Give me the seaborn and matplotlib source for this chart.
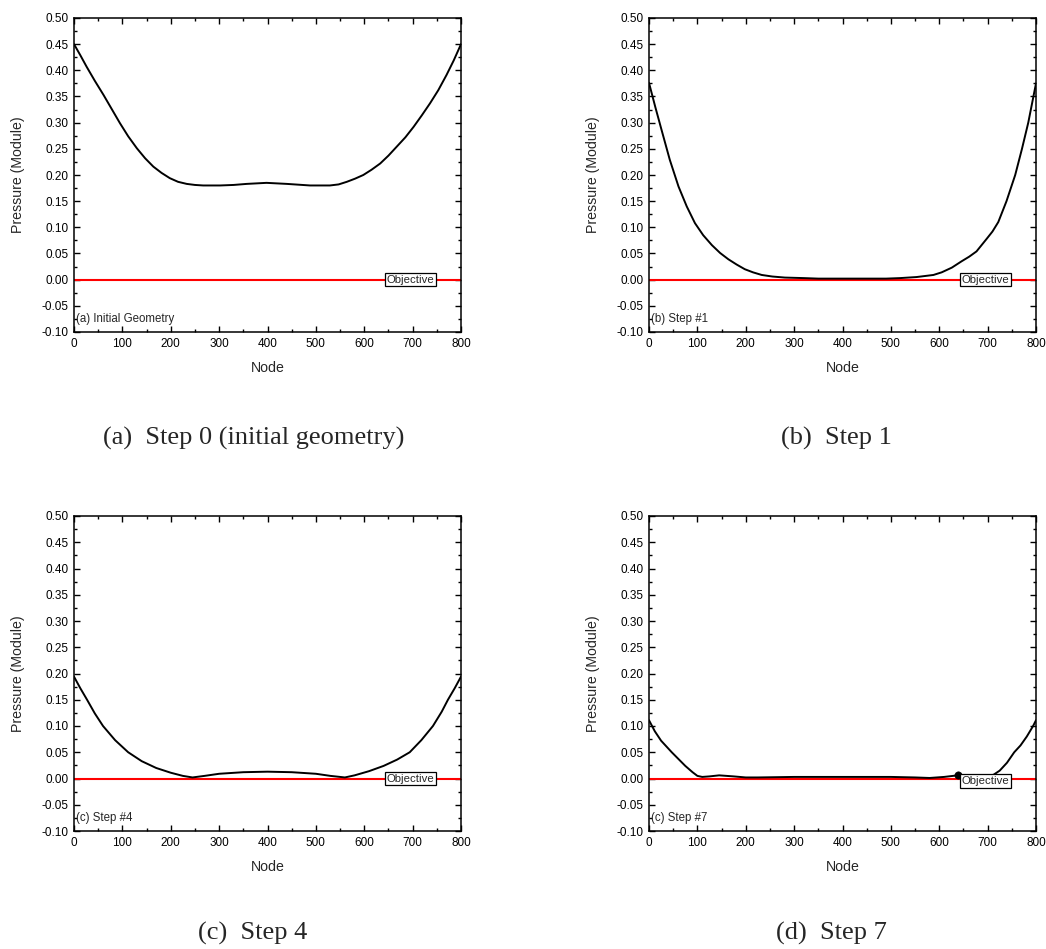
import matplotlib
matplotlib.use("Agg")
import matplotlib.pyplot as plt
from matplotlib.ticker import MultipleLocator, FormatStrFormatter
import seaborn as sns
import pandas as pd

# ---- data: pressure modulus along the boundary nodes at each optimisation step ----
nodes_step0 = [0, 13, 26, 43, 61, 78, 95, 112, 130, 147, 164, 181, 198, 215, 233, 250,
               267, 302, 330, 357, 398, 440, 488, 529, 547, 564, 581, 598, 615, 633,
               650, 667, 685, 702, 719, 736, 753, 770, 785, 800]
pressure_step0 = [0.450, 0.429, 0.407, 0.380, 0.353, 0.326, 0.299, 0.274, 0.251, 0.232,
                  0.216, 0.204, 0.194, 0.187, 0.183, 0.181, 0.180, 0.180, 0.181, 0.183,
                  0.185, 0.183, 0.180, 0.180, 0.182, 0.187, 0.193, 0.200, 0.210, 0.222,
                  0.237, 0.254, 0.272, 0.292, 0.314, 0.337, 0.362, 0.391, 0.419, 0.450]

nodes_step1 = [0, 13, 26, 43, 61, 78, 95, 112, 130, 147, 164, 181, 198, 215, 233, 255,
               281, 320, 350, 400, 450, 490, 519, 553, 588, 605, 626, 646, 662, 677,
               698, 710, 722, 739, 757, 771, 784, 800]
pressure_step1 = [0.376, 0.330, 0.286, 0.229, 0.178, 0.140, 0.108, 0.085, 0.066, 0.051,
                  0.039, 0.029, 0.020, 0.014, 0.009, 0.006, 0.004, 0.003, 0.002, 0.002,
                  0.002, 0.002, 0.003, 0.005, 0.009, 0.014, 0.023, 0.035, 0.044, 0.054,
                  0.078, 0.092, 0.110, 0.150, 0.200, 0.250, 0.300, 0.375]

nodes_step4 = [0, 13, 27, 43, 60, 85, 112, 140, 170, 200, 225, 245, 270, 300, 350, 400,
               450, 500, 530, 560, 580, 610, 640, 668, 694, 718, 742, 760, 773, 787, 800]
pressure_step4 = [0.194, 0.172, 0.150, 0.124, 0.100, 0.073, 0.050, 0.033, 0.020, 0.011,
                  0.005, 0.002, 0.005, 0.009, 0.012, 0.013, 0.012, 0.009, 0.005, 0.002,
                  0.006, 0.014, 0.024, 0.036, 0.050, 0.073, 0.100, 0.127, 0.150, 0.172,
                  0.194]

nodes_step7 = [0, 12, 25, 47, 75, 90, 100, 110, 125, 145, 175, 200, 225, 300, 400, 500,
               550, 580, 610, 638, 660, 690, 712, 725, 740, 755, 768, 781, 794, 800]
pressure_step7 = [0.111, 0.090, 0.072, 0.050, 0.024, 0.012, 0.005, 0.003, 0.004, 0.006,
                  0.004, 0.002, 0.002, 0.003, 0.003, 0.003, 0.002, 0.001, 0.003, 0.006,
                  0.005, 0.004, 0.007, 0.015, 0.030, 0.050, 0.063, 0.080, 0.100, 0.111]

# marked node on the last step
marker_node = [638]
marker_pressure = [0.006]

objective_value = 0.0

inner_labels = ["(a) Initial Geometry", "(b) Step #1", "(c) Step #4", "(c) Step #7"]
captions = ["(a)  Step 0 (initial geometry)", "(b)  Step 1", "(c)  Step 4", "(d)  Step 7"]

steps = [(nodes_step0, pressure_step0), (nodes_step1, pressure_step1),
         (nodes_step4, pressure_step4), (nodes_step7, pressure_step7)]

# ---- styling ----
sns.set_style("ticks")
plt.rcParams["font.family"] = ["Liberation Sans", "DejaVu Sans"]
plt.rcParams["axes.linewidth"] = 1.1

W, H = 1046, 949
fig = plt.figure(figsize=(W / 100, H / 100), dpi=100)

# axes boxes in pixel coordinates (left, top, right, bottom)
boxes = [(74, 18, 461, 332), (649, 18, 1036, 332),
         (74, 516, 461, 831), (649, 516, 1036, 831)]
caption_pos = [(254, 438), (836, 438), (253, 933), (831, 933)]
objective_y = [0.0, 0.0, 0.0, -0.005]

for i, ((nx, py), (l, t, r, b)) in enumerate(zip(steps, boxes)):
    ax = fig.add_axes([l / W, 1 - b / H, (r - l) / W, (b - t) / H])
    ax.axhline(objective_value, color="#ff0000", lw=1.5, zorder=2)
    df = pd.DataFrame({"Node": nx, "Pressure": py})
    sns.lineplot(data=df, x="Node", y="Pressure", ax=ax, color="black",
                 lw=1.4, zorder=3, estimator=None, sort=False)
    if i == 3:
        sns.scatterplot(x=marker_node, y=marker_pressure, ax=ax, color="black",
                        s=28, edgecolor="black", zorder=4)

    ax.set_xlim(0, 800)
    ax.set_ylim(-0.10, 0.50)
    ax.xaxis.set_major_locator(MultipleLocator(100))
    ax.xaxis.set_minor_locator(MultipleLocator(50))
    ax.yaxis.set_major_locator(MultipleLocator(0.05))
    ax.yaxis.set_minor_locator(MultipleLocator(0.025))
    ax.yaxis.set_major_formatter(FormatStrFormatter("%.2f"))
    ax.tick_params(which="both", direction="in", top=True, right=True,
                   width=1.0, labelsize=8.5, pad=4, colors="black")
    ax.tick_params(which="major", length=4.5)
    ax.tick_params(which="minor", length=2.5)
    for s in ax.spines.values():
        s.set_visible(True)
        s.set_color("black")

    ax.set_xlabel("Node", fontsize=10.2, labelpad=8)
    ax.set_ylabel("Pressure (Module)", fontsize=10.2, labelpad=12)

    ax.text(5, -0.075, inner_labels[i], fontsize=8.3, ha="left", va="center",
            zorder=5)
    ax.text(647, objective_y[i], "Objective", fontsize=8.2, ha="left", va="center",
            zorder=6,
            bbox=dict(boxstyle="square,pad=0.15", fc="white", ec="black", lw=0.9))

    cx, cy = caption_pos[i]
    fig.text(cx / W, 1 - cy / H, captions[i], fontsize=19, ha="center",
             va="center", family=["Liberation Serif", "DejaVu Serif"])

fig.savefig("out.png", dpi=100)
